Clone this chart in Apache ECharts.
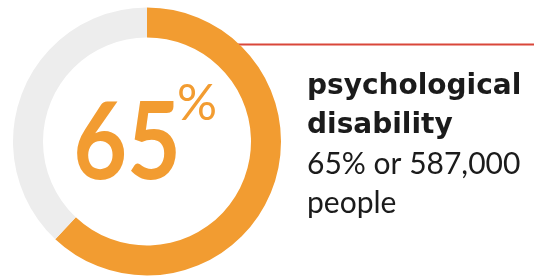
<!DOCTYPE html>
<html>
<head>
<meta charset="utf-8">
<script src="https://cdn.jsdelivr.net/npm/echarts@6/dist/echarts.min.js"></script>
<style>
  html, body { margin: 0; padding: 0; background: #fff; }
  #chart { width: 534px; height: 277px; }
</style>
</head>
<body>
<div id="chart"></div>
<script>
// ring share as drawn, and the texts
const ringNames = ['psychological disability', 'other']
const ringValues = [62, 38]
const bigNumber = '65'
const heading = ['psychological', 'disability']
const detail = ['65% or 587,000', 'people']

const orange = '#F29C31'
const grey = '#EDEDED'

const chart = echarts.init(document.getElementById('chart'))

const option = {
  animation: false,
  series: [{
    type: 'pie',
    silent: true,
    center: [147, 141.5],
    radius: [104, 134],
    startAngle: 90,
    clockwise: true,
    label: { show: false },
    labelLine: { show: false },
    z: 2,
    data: ringNames.map((n, i) => ({
      name: n,
      value: ringValues[i],
      itemStyle: { color: i === 0 ? orange : grey }
    }))
  }],
  graphic: [
    {
      type: 'line',
      z: 1,
      shape: { x1: 200, y1: 44.5, x2: 534, y2: 44.5 },
      style: { stroke: '#D9473A', lineWidth: 2.2 }
    },
    {
      type: 'text',
      x: 127, y: 144,
      scaleX: 0.86,
      style: {
        text: bigNumber,
        fill: orange,
        font: 'bold 108px Lato',
        align: 'center',
        verticalAlign: 'middle'
      }
    },
    {
      type: 'text',
      x: 197, y: 104,
      style: {
        text: '%',
        fill: orange,
        font: '400 50px Lato',
        align: 'center',
        verticalAlign: 'middle'
      }
    },
    {
      type: 'text',
      x: 307, y: 87,
      style: {
        text: heading[0],
        fill: '#1b1b1b',
        font: 'bold 28px "DejaVu Sans"',
        verticalAlign: 'middle'
      }
    },
    {
      type: 'text',
      x: 307, y: 126,
      style: {
        text: heading[1],
        fill: '#1b1b1b',
        font: 'bold 28px "DejaVu Sans"',
        verticalAlign: 'middle'
      }
    },
    {
      type: 'text',
      x: 307, y: 164,
      style: {
        text: detail[0],
        fill: '#1b1b1b',
        font: '400 30px Lato',
        verticalAlign: 'middle'
      }
    },
    {
      type: 'text',
      x: 307, y: 203,
      style: {
        text: detail[1],
        fill: '#1b1b1b',
        font: '400 30px Lato',
        verticalAlign: 'middle'
      }
    }
  ]
}

chart.setOption(option)
</script>
</body>
</html>
